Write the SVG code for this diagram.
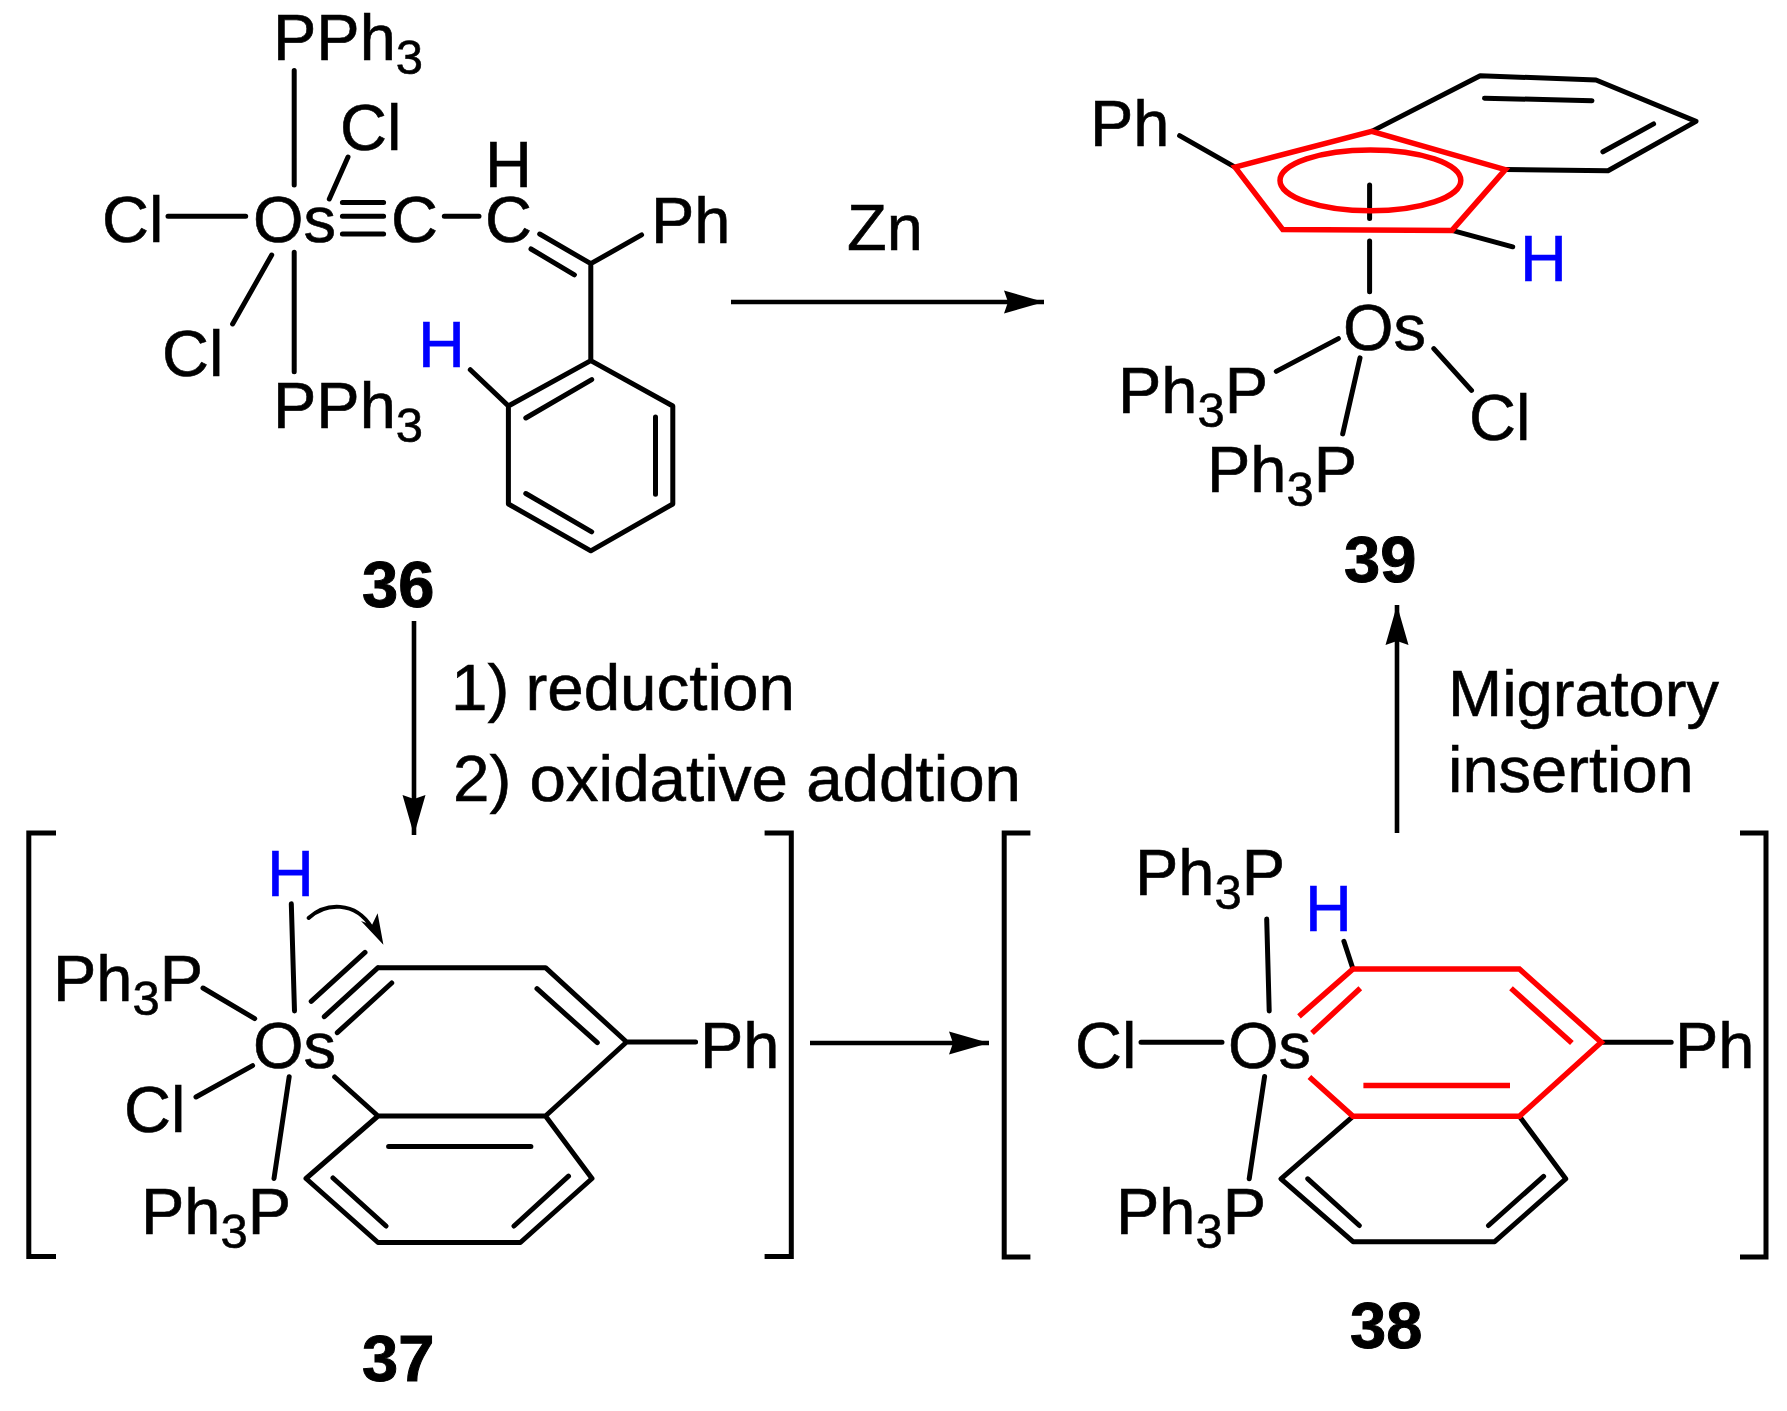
<svg xmlns="http://www.w3.org/2000/svg" width="1787" height="1411" viewBox="0 0 1787 1411">
<defs>
<marker id="arr" markerUnits="userSpaceOnUse" markerWidth="42" markerHeight="24" refX="40" refY="12" orient="auto"><path d="M0 .5 L40 12 L0 23.5 L4 12Z" fill="#000"/></marker>
</defs>
<style>
text{font-family:"Liberation Sans",Arial,sans-serif;font-size:65px;fill:#000;stroke:#000;stroke-width:.6}
.sub{font-size:49px}
.b{font-weight:bold;font-size:65px;stroke-width:1}
.h{fill:#0000ff;stroke:#0000ff}
.l{font-size:65.5px}
.k{stroke:#000;stroke-width:5;stroke-linecap:round;stroke-linejoin:round;fill:none}
.r{stroke:#ff0000;stroke-width:5.5;stroke-linejoin:miter;fill:none}
.br{stroke:#000;stroke-width:5;fill:none}
.a{stroke:#000;stroke-width:4.6;fill:none;marker-end:url(#arr)}
</style>
<rect width="1787" height="1411" fill="#fff"/>
<g id="connectors">
<line class="a" x1="731" y1="302" x2="1044" y2="302"/>
<line class="a" x1="414" y1="621" x2="414" y2="835"/>
<line class="a" x1="810" y1="1043" x2="989" y2="1043"/>
<line class="a" x1="1397" y1="833" x2="1397" y2="605"/>
</g>
<g id="m36">
<path class="k" d="M294.2 70.4V185M348 157L329.3 199M168 216.3H245.7M342.4 202.5H383.6M342.4 216.3H383.6M342.4 234H383.6M444.3 216.3H479M539.7 234L590.8 263.7L641.6 234.9M531 249L574.4 274.8M590.8 263.7V360.6M590.8 360.6L672.8 406V504L590.8 550.8L508.4 504V406ZM591.7 379.6L525.8 418M655.5 417V494.3M525.8 493.5L591.7 531.8M470.3 369.7L508.4 406M271.7 255L232.6 324M294.2 252.3V371.7"/>
<text x="273" y="60">PPh<tspan class="sub" dy="14">3</tspan></text>
<text x="340" y="149.5">Cl</text>
<text x="102" y="242.4">Cl</text>
<text x="253" y="242.4">Os</text>
<text x="391" y="242.4">C</text>
<text x="485" y="242.4">C</text>
<text x="485" y="186.6">H</text>
<text x="651" y="243">Ph</text>
<text x="162" y="375.5">Cl</text>
<text x="273" y="428.2">PPh<tspan class="sub" dy="14">3</tspan></text>
<text class="h" x="418" y="366.5">H</text>
<text class="b" x="362" y="607">36</text>
</g>
<g id="m39">
<path class="k" d="M1179.6 135.7L1235 167.1M1371.7 131.4L1480.2 75.7L1596 80L1696 121.4L1608 170.7L1505.3 169.6M1484.5 98.2L1592 100.7M1653.6 123.9L1602.9 151.8M1452 230.4L1512.7 246.8M1369.6 185V218.6M1369.6 241V291.8M1338.4 338.6L1276.3 371.4M1360 357.9L1342.7 433.9M1433.8 348.6L1471.5 390.4"/>
<path class="r" d="M1235 167.1L1371.7 131.4L1505.3 169.6L1452 230.4L1282.8 229.6Z"/>
<ellipse class="r" cx="1370.4" cy="180.4" rx="90.4" ry="30.4"/>
<text x="1090" y="146.4">Ph</text>
<text class="h" x="1520" y="281.4">H</text>
<text x="1343" y="349.5">Os</text>
<text x="1118" y="412.5">Ph<tspan class="sub" dy="14">3</tspan><tspan dy="-14">P</tspan></text>
<text x="1207" y="491.8">Ph<tspan class="sub" dy="14">3</tspan><tspan dy="-14">P</tspan></text>
<text x="1469" y="440">Cl</text>
<text class="b" x="1344" y="581.5">39</text>
</g>
<g id="m37">
<path class="br" d="M56 833H28.8V1256.6H56M764.6 833H791.3V1256.6H764.6"/>
<path class="k" d="M291.3 903.8L294.5 1011M365 952.4L311.2 1001.4M378 967.7L324.3 1016.7M391.7 983L337.3 1032.7M378 967.7H545.5L626.6 1042H695.6M537 988.7L597.3 1042.7M626.6 1042L545.5 1116H378L306 1178.5L378 1242.5H520.4L592 1178.5L545.5 1116M388.6 1146.4H530.9M568.5 1176.2L514 1226M333 1178L386 1226M334.7 1077L378 1116M203 988L254.7 1018.6M252.6 1065.6L196 1097M289.2 1076.7L274 1178.5"/>
<path class="k" d="M308.6 918C325 903 355 900 372 928" style="stroke-width:4"/>
<path d="M383.4 944.7L377.6 913.3L372 925L361 921Z" fill="#000"/>
<text class="h" x="267" y="896">H</text>
<text x="53" y="1001.4">Ph<tspan class="sub" dy="14">3</tspan><tspan dy="-14">P</tspan></text>
<text x="124" y="1131.5">Cl</text>
<text x="253" y="1068.3">Os</text>
<text x="141" y="1234">Ph<tspan class="sub" dy="14">3</tspan><tspan dy="-14">P</tspan></text>
<text x="700" y="1068.3">Ph</text>
<text class="b" x="362" y="1381">37</text>
</g>
<g id="m38">
<path class="br" d="M1030.4 833H1004.2V1257H1030.4M1740 833H1766V1257H1740"/>
<path class="k" d="M1343.9 941.3L1353 969M1266.7 919L1269.2 1011M1601.2 1042.3H1671.2M1141 1042.3H1222M1264.6 1076.4L1249.2 1178.8M1353 1116.3L1281 1178.8L1353 1241.7H1494.7L1565.7 1178.8L1519.4 1116.3M1307.8 1178.8L1359.3 1225.5M1543.6 1176.3L1488.5 1225.5"/>
<path class="r" d="M1299 1016.4L1353 969H1519.4L1601.2 1042.3L1519.4 1116.3H1353L1309.4 1077M1360.3 988.3L1312 1033M1511 988.3L1571.9 1043M1363.4 1085.6H1510"/>
<text x="1135" y="895">Ph<tspan class="sub" dy="14">3</tspan><tspan dy="-14">P</tspan></text>
<text class="h" x="1305" y="931.3">H</text>
<text x="1075" y="1067.9">Cl</text>
<text x="1228" y="1067.9">Os</text>
<text x="1675" y="1067.9">Ph</text>
<text x="1116" y="1234.3">Ph<tspan class="sub" dy="14">3</tspan><tspan dy="-14">P</tspan></text>
<text class="b" x="1350" y="1348">38</text>
</g>
<g id="labels">
<text x="847" y="250">Zn</text>
<text class="l" x="451" y="710" word-spacing="-2">1) reduction</text>
<text class="l" x="453" y="801">2) oxidative addtion</text>
<text x="1448" y="716">Migratory</text>
<text x="1448" y="792">insertion</text>
</g>
</svg>
